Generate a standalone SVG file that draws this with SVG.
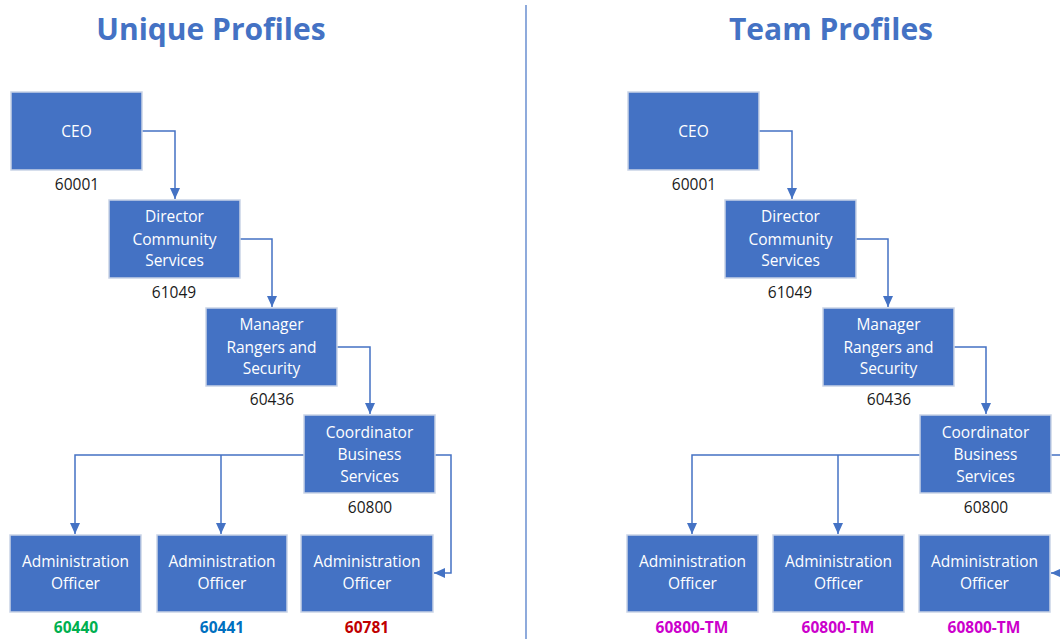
<svg xmlns="http://www.w3.org/2000/svg" width="1060" height="639" viewBox="0 0 1060 639">
<style>
.box{fill:#4472C4;stroke:#C9D3E6;stroke-width:1.5}
.bt{font-family:"Open Sans","Liberation Sans",sans-serif;font-size:15.5px;fill:#fff;text-anchor:middle}
.num{font-family:"Open Sans","Liberation Sans",sans-serif;font-size:15.5px;fill:#1a1a1a;text-anchor:middle}
.bn{font-family:"Open Sans","Liberation Sans",sans-serif;font-size:15.5px;font-weight:700;text-anchor:middle}
.title{font-family:"Open Sans","Liberation Sans",sans-serif;font-size:30px;font-weight:700;fill:#4472C4;text-anchor:middle}
.c{fill:none;stroke:#4472C4;stroke-width:1.5}
</style>
<defs>
<marker id="ah" markerUnits="userSpaceOnUse" markerWidth="12" markerHeight="12" viewBox="0 0 12 12" refX="11" refY="6" orient="auto">
<path d="M0,1 L11,6 L0,11 Z" fill="#4472C4"/>
</marker>
</defs>
<text class="title" x="211" y="40">Unique Profiles</text>
<text class="title" x="831" y="40">Team Profiles</text>
<line x1="526" y1="5" x2="526" y2="639" stroke="#4472C4" stroke-width="1.2"/>
<g id="connectors">
<path class="c" d="M142,131 H175 V199" marker-end="url(#ah)"/>
<path class="c" d="M240,239 H272 V307" marker-end="url(#ah)"/>
<path class="c" d="M337,347 H370 V414" marker-end="url(#ah)"/>
<path class="c" d="M304,455 H75 V534" marker-end="url(#ah)"/>
<path class="c" d="M221,455 V534" marker-end="url(#ah)"/>
<path class="c" d="M435,455 H451 V573 H434" marker-end="url(#ah)"/>
<path class="c" d="M759,131 H792 V199" marker-end="url(#ah)"/>
<path class="c" d="M856,239 H888 V307" marker-end="url(#ah)"/>
<path class="c" d="M954,347 H986 V414" marker-end="url(#ah)"/>
<path class="c" d="M920,455 H692 V534" marker-end="url(#ah)"/>
<path class="c" d="M838,455 V534" marker-end="url(#ah)"/>
<path class="c" d="M1051,455 H1068 V573 H1051" marker-end="url(#ah)"/>
</g>
<g id="u-ceo"><rect class="box" x="11" y="92" width="131" height="78"/><text class="bt" x="76.5" y="137">CEO</text><text class="num" x="77" y="190">60001</text></g>
<g id="u-director"><rect class="box" x="109" y="200" width="131" height="78"/><text class="bt" x="174.5" y="222">Director</text><text class="bt" x="174.5" y="245">Community</text><text class="bt" x="174.5" y="266">Services</text><text class="num" x="174" y="298">61049</text></g>
<g id="u-manager"><rect class="box" x="206" y="308" width="131" height="78"/><text class="bt" x="271.5" y="330">Manager</text><text class="bt" x="271.5" y="353">Rangers and</text><text class="bt" x="271.5" y="374">Security</text><text class="num" x="272" y="405">60436</text></g>
<g id="u-coord"><rect class="box" x="304" y="415" width="131" height="78"/><text class="bt" x="369.5" y="438">Coordinator</text><text class="bt" x="369.5" y="460">Business</text><text class="bt" x="369.5" y="482">Services</text><text class="num" x="370" y="513">60800</text></g>
<g id="u-admin1"><rect class="box" x="10" y="535" width="131" height="77"/><text class="bt" x="75.5" y="567">Administration</text><text class="bt" x="75.5" y="589">Officer</text><text class="bn" x="76" y="633" fill="#00B050">60440</text></g>
<g id="u-admin2"><rect class="box" x="157" y="535" width="130" height="77"/><text class="bt" x="222" y="567">Administration</text><text class="bt" x="222" y="589">Officer</text><text class="bn" x="222" y="633" fill="#0070C0">60441</text></g>
<g id="u-admin3"><rect class="box" x="301" y="535" width="132" height="77"/><text class="bt" x="367" y="567">Administration</text><text class="bt" x="367" y="589">Officer</text><text class="bn" x="367" y="633" fill="#C00000">60781</text></g>
<g id="t-ceo"><rect class="box" x="628" y="92" width="131" height="78"/><text class="bt" x="693.5" y="137">CEO</text><text class="num" x="694" y="190">60001</text></g>
<g id="t-director"><rect class="box" x="725" y="200" width="131" height="78"/><text class="bt" x="790.5" y="222">Director</text><text class="bt" x="790.5" y="245">Community</text><text class="bt" x="790.5" y="266">Services</text><text class="num" x="790" y="298">61049</text></g>
<g id="t-manager"><rect class="box" x="823" y="308" width="131" height="78"/><text class="bt" x="888.5" y="330">Manager</text><text class="bt" x="888.5" y="353">Rangers and</text><text class="bt" x="888.5" y="374">Security</text><text class="num" x="889" y="405">60436</text></g>
<g id="t-coord"><rect class="box" x="920" y="415" width="131" height="78"/><text class="bt" x="985.5" y="438">Coordinator</text><text class="bt" x="985.5" y="460">Business</text><text class="bt" x="985.5" y="482">Services</text><text class="num" x="986" y="513">60800</text></g>
<g id="t-admin1"><rect class="box" x="627" y="535" width="131" height="77"/><text class="bt" x="692.5" y="567">Administration</text><text class="bt" x="692.5" y="589">Officer</text><text class="bn" x="692" y="633" fill="#CC00CC">60800-TM</text></g>
<g id="t-admin2"><rect class="box" x="773" y="535" width="131" height="77"/><text class="bt" x="838.5" y="567">Administration</text><text class="bt" x="838.5" y="589">Officer</text><text class="bn" x="838" y="633" fill="#CC00CC">60800-TM</text></g>
<g id="t-admin3"><rect class="box" x="919" y="535" width="131" height="77"/><text class="bt" x="984.5" y="567">Administration</text><text class="bt" x="984.5" y="589">Officer</text><text class="bn" x="984" y="633" fill="#CC00CC">60800-TM</text></g>
</svg>
